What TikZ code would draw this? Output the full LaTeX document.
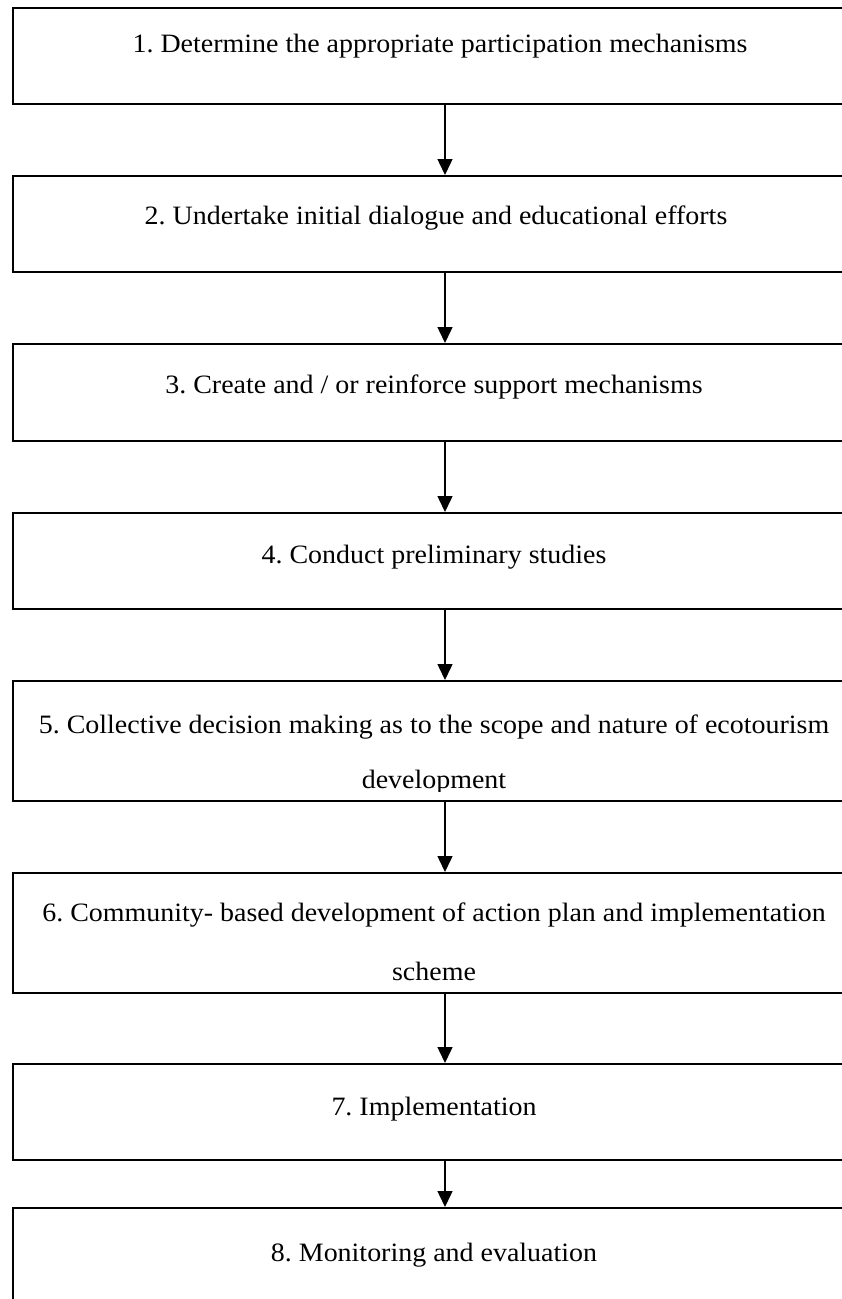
\documentclass[tikz,border=0pt]{standalone}
\usepackage{fontspec}
\setmainfont[FakeStretch=1.055]{Liberation Serif}
\usetikzlibrary{arrows.meta}
\begin{document}
\frenchspacing
\begin{tikzpicture}[x=1pt,y=-1pt,
  box/.style={draw=black, line width=2pt, rectangle, inner sep=0pt, minimum width=864pt},
  lbl/.style={anchor=base, inner sep=0pt, font=\fontsize{26.5}{31}\selectfont},
  flow/.style={line width=1.5pt, -{Triangle[length=16pt,width=15pt]}}]
\clip (0,0) rectangle (842,1299);
\node[box, minimum height=96pt]  (b1) at (445,56) {};
\node[box, minimum height=96pt]  (b2) at (445,224) {};
\node[box, minimum height=97pt]  (b3) at (445,392.5) {};
\node[box, minimum height=96pt]  (b4) at (445,561) {};
\node[box, minimum height=120pt] (b5) at (445,741) {};
\node[box, minimum height=120pt] (b6) at (445,933) {};
\node[box, minimum height=96pt]  (b7) at (445,1112) {};
\node[box, minimum height=132pt] (b8) at (445,1274) {};
\node[lbl] (t1) at (440,52) {1. Determine the appropriate participation mechanisms};
\node[lbl] (t2) at (436,224) {2. Undertake initial dialogue and educational efforts};
\node[lbl] (t3) at (434,393) {3. Create and / or reinforce support mechanisms};
\node[lbl] (t4) at (434,563) {4. Conduct preliminary studies};
\node[lbl] (t5a) at (434,733) {5. Collective decision making as to the scope and nature of ecotourism};
\begin{scope}
  \clip (0,760) rectangle (842,791);
  \node[lbl] (t5b) at (434,788) {development};
\end{scope}
\node[lbl] (t6a) at (434,921) {6. Community- based development of action plan and implementation};
\node[lbl] (t6b) at (434,980) {scheme};
\node[lbl] (t7) at (434,1115) {7. Implementation};
\node[lbl] (t8) at (434,1261) {8. Monitoring and evaluation};
\draw[flow] (b1.south) -- (b2.north);
\draw[flow] (b2.south) -- (b3.north);
\draw[flow] (b3.south) -- (b4.north);
\draw[flow] (b4.south) -- (b5.north);
\draw[flow] (b5.south) -- (b6.north);
\draw[flow] (b6.south) -- (b7.north);
\draw[flow] (b7.south) -- (b8.north);
\end{tikzpicture}
\end{document}
